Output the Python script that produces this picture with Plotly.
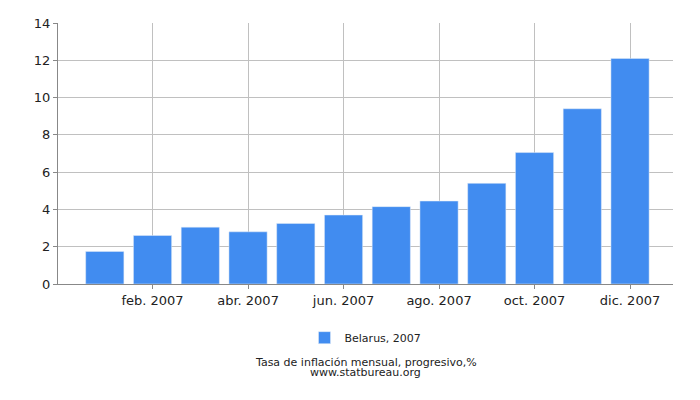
import plotly.graph_objects as go

months = list(range(1, 13))
values = [1.75, 2.6, 3.05, 2.8, 3.25, 3.7, 4.15, 4.45, 5.4, 7.05, 9.4, 12.1]
tick_vals = [2, 4, 6, 8, 10, 12]
tick_text = ["feb. 2007", "abr. 2007", "jun. 2007", "ago. 2007", "oct. 2007", "dic. 2007"]

fig = go.Figure(go.Bar(x=months, y=values, name="Belarus, 2007",
                       marker_color="#418cf0", width=0.8))
fig.update_layout(
    width=700, height=400, paper_bgcolor="white", plot_bgcolor="white",
    margin=dict(l=50, r=35, t=15, b=124),
    font=dict(family="DejaVu Sans", size=13, color="#222"),
    showlegend=True,
    legend=dict(orientation="h", x=0.5, xanchor="center", y=-0.15, yanchor="top",
                font=dict(size=11)),
    bargap=0.2,
)
fig.update_xaxes(range=[0.02, 12.9], tickvals=tick_vals, ticktext=tick_text,
                 showgrid=True, gridcolor="#c0c0c0", showline=True, linecolor="#888",
                 ticks="outside", ticklen=4, tickcolor="#888", zeroline=False, automargin=False)
fig.update_yaxes(range=[0, 14], dtick=2, showgrid=True, gridcolor="#c0c0c0",
                 showline=True, linecolor="#888", ticks="outside", ticklen=4,
                 tickcolor="#888", zeroline=False, automargin=False)
fig.add_annotation(text="Tasa de inflación mensual, progresivo,%",
                   xref="paper", yref="paper", x=0.5, y=-0.3, yanchor="middle",
                   showarrow=False, font=dict(size=11))
fig.add_annotation(text="www.statbureau.org",
                   xref="paper", yref="paper", x=0.5, y=-0.34, yanchor="middle",
                   showarrow=False, font=dict(size=11))
fig.write_html("out.html")
